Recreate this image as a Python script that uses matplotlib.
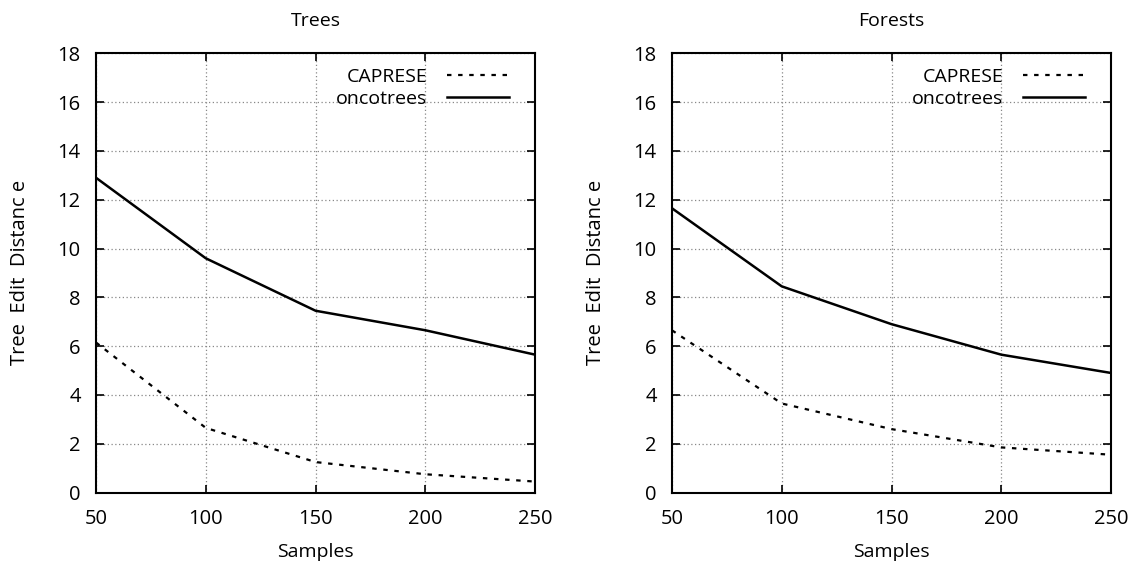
import numpy as np
import matplotlib
matplotlib.use("Agg")
import matplotlib.pyplot as plt

plt.rcParams['font.family'] = ['Open Sans', 'DejaVu Sans']

samples = [50, 100, 150, 200, 250]

trees_caprese = [6.15, 2.65, 1.25, 0.75, 0.45]
trees_oncotrees = [12.9, 9.6, 7.45, 6.65, 5.65]

forests_caprese = [6.65, 3.65, 2.6, 1.85, 1.55]
forests_oncotrees = [11.65, 8.45, 6.9, 5.65, 4.9]

titles = ['Trees', 'Forests']
caprese = [trees_caprese, forests_caprese]
oncotrees = [trees_oncotrees, forests_oncotrees]

fig = plt.figure(figsize=(11.36, 5.61), dpi=100)
lefts = [0.0845, 0.5915]

for i in range(2):
    ax = fig.add_axes([lefts[i], 0.122, 0.3866, 0.783])
    ax.plot(samples, caprese[i], color='black', lw=1.6, linestyle=(0, (2, 3)), label='CAPRESE')
    ax.plot(samples, oncotrees[i], color='black', lw=1.8, label='oncotrees')
    ax.set_xlim(50, 250)
    ax.set_ylim(0, 18)
    ax.set_xticks([50, 100, 150, 200, 250])
    ax.set_yticks(range(0, 19, 2))
    ax.grid(True, color='#888888', linestyle=(0, (1, 2)), lw=0.9)
    ax.tick_params(direction='in', top=True, right=True, length=6, width=1.2, labelsize=14.5)
    ax.tick_params(axis='x', pad=12)
    ax.tick_params(axis='y', pad=11)
    for s in ax.spines.values():
        s.set_linewidth(1.5)
    ax.set_title(titles[i], fontsize=14, pad=20)
    ax.set_xlabel('Samples', fontsize=14, labelpad=10)
    ax.set_ylabel('Tree  Edit  Distanc e', fontsize=14.5, labelpad=20)
    ax.legend(loc='upper right', frameon=False, markerfirst=False, fontsize=14,
              handlelength=3.2, handletextpad=1.0, labelspacing=0.2,
              borderaxespad=0.0, bbox_to_anchor=(0.958, 0.985))

fig.savefig('out.png', dpi=100)
